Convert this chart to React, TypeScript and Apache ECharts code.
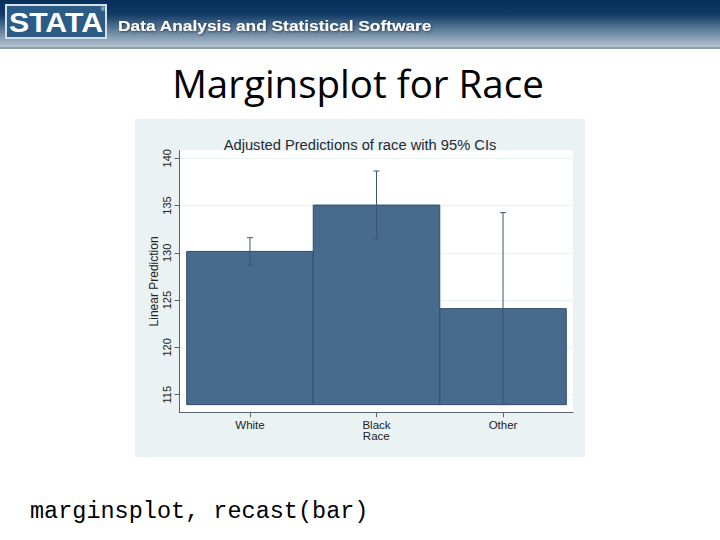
import React, { useEffect, useRef } from "react";
import * as echarts from "echarts";

const categories = ["White", "Black", "Other"];
const categoryPositions = [1, 2, 3];
const means = [130.15, 135.05, 124.1];
const ciLow = [128.7, 131.5, 113.95];
const ciHigh = [131.6, 138.65, 134.25];
const yTicks = [115, 120, 125, 130, 135, 140];

const chartTitle = "Adjusted Predictions of race with 95% CIs";
const yAxisTitle = "Linear Prediction";
const xAxisTitle = "Race";
const slideTitle = "Marginsplot for Race";
const caption = "marginsplot, recast(bar)";
const headerText = "Data Analysis and Statistical Software";

const BAR_FILL = "#486a8c";
const BAR_EDGE = "#2f4d6c";
const CI_COLOR = "#3a5673";

export default function App() {
  const ref = useRef<HTMLDivElement>(null);

  useEffect(() => {
    if (!ref.current) return;
    const chart = echarts.init(ref.current, null, { renderer: "svg" });
    const base = Math.min(...ciLow);

    const barData = categoryPositions.map((x, i) => [x, means[i], base]);
    const ciData = categoryPositions.map((x, i) => [x, ciLow[i], ciHigh[i]]);

    const option: any = {
      animation: false,
      backgroundColor: "#ffffff",
      title: {
        text: chartTitle,
        left: "center",
        top: 132,
        textStyle: {
          fontFamily: "Liberation Sans, Arial, sans-serif",
          fontSize: 14.7,
          fontWeight: "normal",
          color: "#1e2a36",
        },
      },
      graphic: [
        // header banner
        {
          type: "rect",
          shape: { x: 0, y: 0, width: 720, height: 47 },
          style: {
            fill: new echarts.graphic.LinearGradient(0, 0, 0, 1, [
              { offset: 0, color: "#06305b" },
              { offset: 0.3, color: "#103a65" },
              { offset: 0.7, color: "#6f8aa4" },
              { offset: 1, color: "#b6c4d1" },
            ]),
          },
          z: -10,
        },
        {
          type: "rect",
          shape: { x: 0, y: 47, width: 720, height: 2 },
          style: { fill: "#8d9cab" },
          z: -10,
        },
        {
          type: "rect",
          shape: { x: 6, y: 5, width: 100, height: 33 },
          style: { fill: "#2c5b86", stroke: "#d5dfe8", lineWidth: 2 },
        },
        {
          type: "text",
          x: 56,
          y: 22,
          scaleX: 1.08,
          style: {
            text: "STATA",
            fontFamily: "Liberation Sans, Arial, sans-serif",
            fontWeight: "bold",
            fontSize: 28,
            fill: "#ffffff",
            align: "center",
            verticalAlign: "middle",
          },
        },
        {
          type: "text",
          x: 103,
          y: 9,
          style: {
            text: "®",
            fontFamily: "Liberation Sans, Arial, sans-serif",
            fontSize: 6,
            fill: "#ffffff",
            align: "center",
            verticalAlign: "middle",
          },
        },
        {
          type: "text",
          x: 118,
          y: 25,
          scaleX: 1.12,
          style: {
            text: headerText,
            fontFamily: "Liberation Sans, Arial, sans-serif",
            fontWeight: "bold",
            fontSize: 15.5,
            fill: "#ffffff",
            align: "left",
            verticalAlign: "middle",
            textShadowColor: "rgba(0,0,0,0.5)",
            textShadowBlur: 2,
            textShadowOffsetX: 1,
            textShadowOffsetY: 1,
          },
        },
        // slide title
        {
          type: "text",
          x: 358,
          y: 83,
          style: {
            text: slideTitle,
            fontFamily: "'Open Sans', 'Noto Sans', sans-serif",
            fontSize: 38.5,
            fill: "#000000",
            align: "center",
            verticalAlign: "middle",
          },
        },
        // stata graph region background
        {
          type: "rect",
          shape: { x: 135, y: 119, width: 450, height: 338 },
          style: { fill: "#eaf2f3" },
          z: -5,
        },
        // caption
        {
          type: "text",
          x: 30,
          y: 511,
          style: {
            text: caption,
            fontFamily: "Liberation Mono, 'Courier New', monospace",
            fontSize: 23.5,
            fill: "#000000",
            align: "left",
            verticalAlign: "middle",
          },
        },
      ],
      grid: {
        left: 179.5,
        right: 147,
        top: 150.5,
        bottom: 127.7,
        show: true,
        backgroundColor: "#ffffff",
        borderWidth: 0,
        z: -1,
      },
      xAxis: {
        type: "value",
        min: 0.443,
        max: 3.553,
        name: xAxisTitle,
        nameLocation: "middle",
        nameGap: 18,
        nameMoveOverlap: false,
        nameTextStyle: {
          fontFamily: "Liberation Sans, Arial, sans-serif",
          fontSize: 11.5,
          color: "#222",
          verticalAlign: "top",
        },
        axisLine: { show: true, onZero: false, lineStyle: { color: "#59646e", width: 1 } },
        axisTick: {
          show: true,
          length: 5,
          customValues: categoryPositions,
          lineStyle: { color: "#59646e" },
        },
        axisLabel: {
          customValues: categoryPositions,
          formatter: (v: number) => {
            const i = categoryPositions.indexOf(Math.round(v));
            return i >= 0 ? categories[i] : "";
          },
          fontFamily: "Liberation Sans, Arial, sans-serif",
          fontSize: 11.5,
          color: "#222",
          margin: 7,
        },
        splitLine: { show: false },
      },
      yAxis: {
        type: "value",
        min: 113.14,
        max: 140.82,
        name: yAxisTitle,
        nameLocation: "middle",
        nameRotate: 90,
        nameGap: 20,
        nameMoveOverlap: false,
        nameTextStyle: {
          fontFamily: "Liberation Sans, Arial, sans-serif",
          fontSize: 12,
          color: "#222",
        },
        axisLine: { show: true, lineStyle: { color: "#59646e", width: 1 } },
        axisTick: {
          show: true,
          length: 5,
          customValues: yTicks,
          lineStyle: { color: "#59646e" },
        },
        axisLabel: {
          customValues: yTicks,
          rotate: 90,
          fontFamily: "Liberation Sans, Arial, sans-serif",
          fontSize: 11,
          color: "#222",
          margin: 7,
        },
        splitLine: { show: true, lineStyle: { color: "#eaf2f3", width: 1 } },
      },
      series: [
        {
          type: "custom",
          name: "bars",
          data: barData,
          clip: true,
          renderItem: (params: any, api: any) => {
            const x = api.value(0);
            const y = api.value(1);
            const b = api.value(2);
            const p1 = api.coord([x - 0.5, y]);
            const p2 = api.coord([x + 0.5, b]);
            return {
              type: "rect",
              shape: { x: p1[0], y: p1[1], width: p2[0] - p1[0], height: p2[1] - p1[1] },
              style: { fill: BAR_FILL, stroke: BAR_EDGE, lineWidth: 1 },
            };
          },
          encode: { x: 0, y: [1, 2] },
        },
        {
          type: "custom",
          name: "ci",
          data: ciData,
          z: 3,
          renderItem: (params: any, api: any) => {
            const x = api.value(0);
            const lo = api.coord([x, api.value(1)]);
            const hi = api.coord([x, api.value(2)]);
            const cap = 3;
            const style = { stroke: CI_COLOR, lineWidth: 1 };
            return {
              type: "group",
              children: [
                { type: "line", shape: { x1: lo[0], y1: lo[1], x2: hi[0], y2: hi[1] }, style },
                { type: "line", shape: { x1: hi[0] - cap, y1: hi[1], x2: hi[0] + cap, y2: hi[1] }, style },
                { type: "line", shape: { x1: lo[0] - cap, y1: lo[1], x2: lo[0] + cap, y2: lo[1] }, style },
              ],
            };
          },
          encode: { x: 0, y: [1, 2] },
        },
      ],
    };

    chart.setOption(option);
    return () => chart.dispose();
  }, []);

  return (
    <div
      ref={ref}
      style={{ position: "absolute", left: 0, top: 0, width: 720, height: 540 }}
    />
  );
}
